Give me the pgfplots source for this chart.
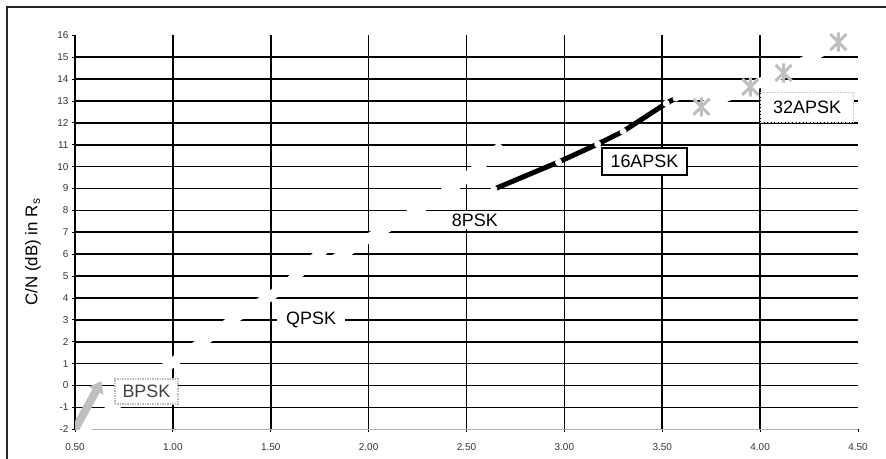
\documentclass[border=0pt]{standalone}
\usepackage{fontspec}
\setmainfont{Liberation Sans}
\usepackage{pgfplots}
\pgfplotsset{compat=1.18}
\usetikzlibrary{arrows.meta}

% Excel-style star marker: a cross with a vertical bar through it
\pgfdeclareplotmark{xstar}{%
  \pgfpathmoveto{\pgfqpoint{-\pgfplotmarksize}{-\pgfplotmarksize}}%
  \pgfpathlineto{\pgfqpoint{\pgfplotmarksize}{\pgfplotmarksize}}%
  \pgfpathmoveto{\pgfqpoint{-\pgfplotmarksize}{\pgfplotmarksize}}%
  \pgfpathlineto{\pgfqpoint{\pgfplotmarksize}{-\pgfplotmarksize}}%
  \pgfpathmoveto{\pgfqpoint{0pt}{-1.2\pgfplotmarksize}}%
  \pgfpathlineto{\pgfqpoint{0pt}{1.2\pgfplotmarksize}}%
  \pgfusepathqstroke}

% Spectral efficiency (bit/symbol) vs required C/N (dB)
\pgfplotstableread{
x y
0.49 -2.35
0.66 -1.24
0.79 -0.30
0.99 1.00
1.19 2.23
1.32 3.10
1.49 4.03
1.59 4.68
1.65 5.18
1.77 6.20
1.79 6.42
}\qpsk
\pgfplotstableread{
x y
1.78 5.50
1.98 6.62
2.23 7.91
2.48 9.35
2.65 10.69
2.68 10.98
}\epsk
\pgfplotstableread{
x y
2.64 8.97
2.97 10.21
3.17 11.03
3.30 11.61
3.52 12.89
3.57 13.13
}\apsksixteen
\pgfplotstableread{
x y
3.70 12.73
3.95 13.64
4.12 14.28
4.40 15.69
}\apskthirtytwo
\pgfplotstableread{
x y
0.50 -2.00
0.635 0.20
}\bpskpointer

\begin{document}
\begin{tikzpicture}
\useasboundingbox (0,0) rectangle (886bp,459bp);
\draw[black!85, line width=1.2bp] (7bp,0) -- (7bp,452bp) -- (886bp,452bp);
\begin{axis}[
  at={(75bp,29.7bp)}, anchor=south west,
  scale only axis, width=783bp, height=394bp,
  xmin=0.5, xmax=4.5, ymin=-2, ymax=16,
  axis x line*=bottom, axis y line*=left,
  x axis line style={gray!60, line width=1.5bp},
  y axis line style={black, line width=1.3bp},
  xtick={0.5,1,1.5,2,2.5,3,3.5,4},
  xticklabels={0.50,1.00,1.50,2.00,2.50,3.00,3.50,4.00},
  extra x ticks={4.5}, extra x tick labels={4.50},
  ytick={-1,0,...,15},
  extra y ticks={-2,16},
  extra tick style={grid=none},
  grid=major,
  major grid style={black, line width=1.6bp},
  tick align=outside, major tick length=3bp,
  tick style={black, line width=0.8bp},
  /pgf/number format/assume math mode=true,
  tick label style={font=\fontsize{10}{12}\selectfont, text=black!80},
  xticklabel style={yshift=-8bp},
  ylabel={C/N (dB) in R\textsubscript{s}},
  ylabel style={font=\fontsize{17}{20}\selectfont, at={(axis description cs:-0.0536,0.45)}, anchor=center},
]
% traces that run in white across the grid
\addplot[white, line width=10bp] table {\qpsk};
\addplot[white, line width=10bp] table {\epsk};
\addplot[white, line width=10bp, mark=xstar, mark size=8bp,
  mark options={color=gray!50, line width=3bp}] table {\apskthirtytwo};
% 16APSK
\addplot[black, line width=5bp, mark=*, mark size=3.2bp,
  mark options={color=white, line width=0.4bp}] table {\apsksixteen};
% callout pointer for the lowest rates
\addplot[gray!50, line width=8bp, -{Triangle[width=16bp,length=11bp]}] table {\bpskpointer};

\node[fill=white, inner xsep=9bp, inner ysep=4bp, font=\fontsize{18}{20}\selectfont] at (axis cs:1.706,2.99) {QPSK};
\node[fill=white, inner xsep=5bp, inner ysep=3bp, font=\fontsize{18}{20}\selectfont] at (axis cs:2.543,7.56) {8PSK};
\node[draw=black, line width=2.5bp, fill=white, minimum width=85bp, minimum height=27bp, inner sep=1bp, font=\fontsize{18}{20}\selectfont] at (axis cs:3.409,10.23) {16APSK};
\node[draw=gray!35, densely dotted, fill=white, minimum width=93bp, minimum height=30bp, inner sep=1bp, font=\fontsize{18}{20}\selectfont] at (axis cs:4.24,12.72) {32APSK};
\node[draw=gray!55, densely dotted, line width=1.5bp, fill=white, text=black!75, minimum width=63bp, minimum height=25bp, inner sep=1bp, font=\fontsize{18}{20}\selectfont] at (axis cs:0.865,-0.27) {BPSK};
\end{axis}
\end{tikzpicture}
\end{document}
